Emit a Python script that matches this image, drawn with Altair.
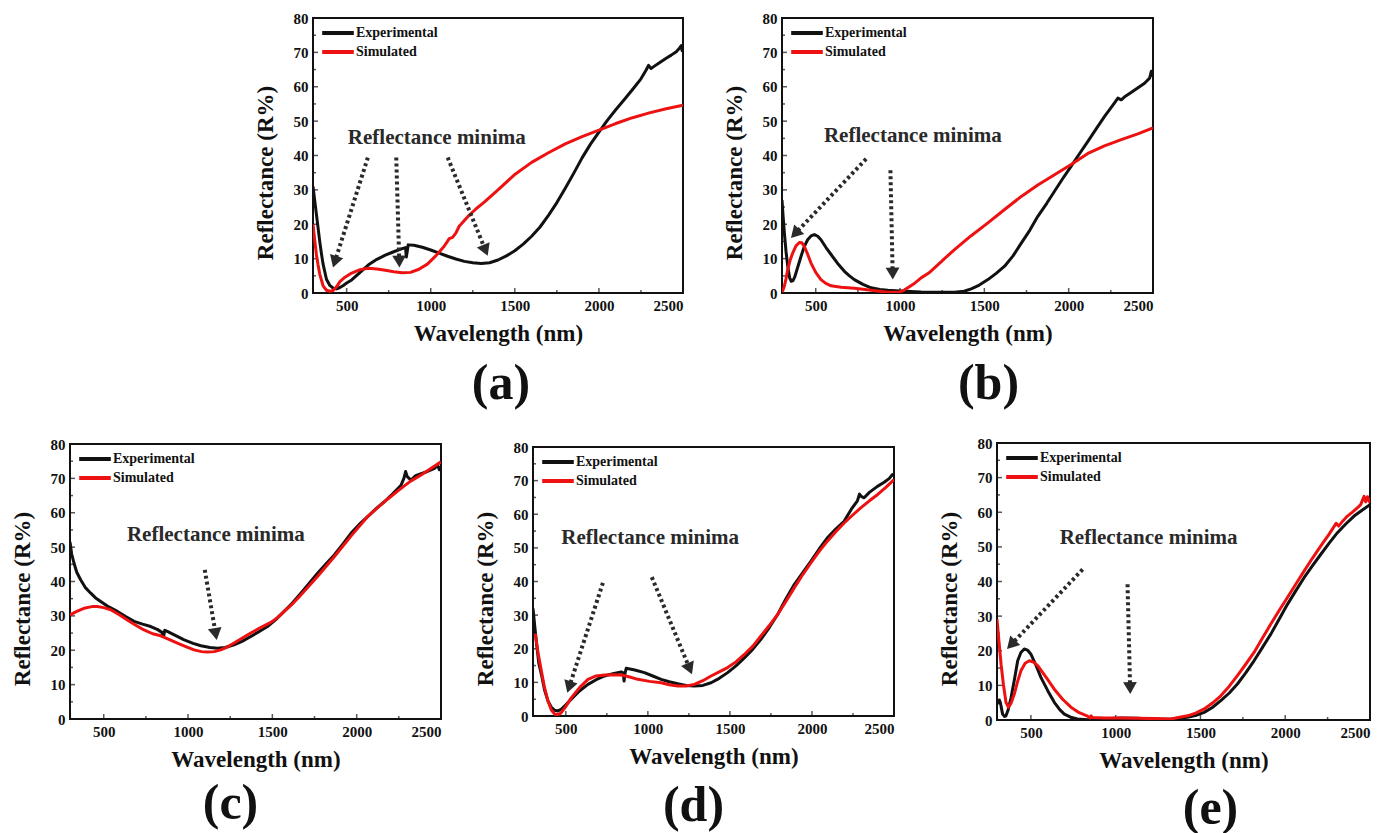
import math
import altair as alt
import pandas as pd

FONT = "Liberation Serif"
RED = "#ee1111"
INK = "#111111"
ANN = "#2a2a2a"

X_TICKS = [500, 1000, 1500, 2000, 2500]
X_MINOR = [750, 1250, 1750, 2250]
Y_TICKS = [0, 10, 20, 30, 40, 50, 60, 70, 80]
Y_MINOR = [5, 15, 25, 35, 45, 55, 65, 75]
SERIES = ["Experimental", "Simulated"]
ANN_TEXT = "Reflectance minima"

# ---------------- (a) ----------------
A_EXP_WL = [300, 310, 320, 330, 340, 350, 360, 380, 400, 420, 440, 460, 480, 500, 530, 580, 630, 680, 730, 780, 830, 850, 855, 860, 866, 900, 950, 1000, 1050, 1100, 1150, 1200, 1250, 1300, 1350, 1400, 1450, 1500, 1550, 1600, 1650, 1700, 1750, 1800, 1850, 1900, 1950, 2000, 2050, 2100, 2150, 2200, 2250, 2280, 2295, 2310, 2330, 2360, 2400, 2430, 2460, 2480, 2490, 2495, 2500]
A_EXP_R = [31, 27, 23, 19, 15, 11.5, 8.4, 4, 2.2, 1.4, 1.2, 1.6, 2.2, 2.9, 3.8, 6, 8.2, 9.8, 11, 12, 12.9, 13.2, 10.5, 12, 14, 13.9, 13.3, 12.5, 11.6, 10.7, 9.9, 9.2, 8.8, 8.6, 8.8, 9.6, 10.8, 12.3, 14.2, 16.5, 19.2, 22.6, 26.3, 30.5, 34.8, 39.3, 43.3, 46.8, 50.2, 53.3, 56.2, 59.2, 62.3, 64.8, 66.2, 65.3, 66, 67, 68.3, 69.2, 70.2, 71.3, 72, 70.5, 71]
A_SIM_WL = [300, 310, 320, 330, 340, 360, 380, 400, 420, 440, 460, 490, 530, 580, 630, 680, 730, 780, 830, 880, 930, 980, 1030, 1080, 1110, 1130, 1150, 1170, 1180, 1220, 1270, 1320, 1400, 1500, 1600, 1700, 1800, 1900, 2000, 2100, 2200, 2300, 2400, 2500]
A_SIM_R = [20, 15.5, 11.3, 8.2, 5.5, 2.1, 0.8, 0.5, 0.7, 1.8, 3.3, 4.6, 5.8, 6.8, 7.2, 7.0, 6.6, 6.2, 5.9, 6.0, 6.9, 8.4, 10.8, 13.6, 15.8, 16.2, 17.5, 19.5, 20, 22.2, 24.5, 26.5, 30, 34.5, 38, 40.8, 43.4, 45.5, 47.4, 49.3, 51, 52.4, 53.6, 54.6]
A_TEXT = [1036, 45]
A_ARROWS = [[626, 39.4, 419, 7.4], [795, 39.4, 814, 7.4], [1101, 39.4, 1339, 10.8]]

# ---------------- (b) ----------------
B_EXP_WL = [300, 307, 314, 324, 334, 345, 355, 365, 375, 390, 413, 432, 452, 472, 492, 512, 531, 560, 591, 630, 670, 700, 729, 780, 828, 880, 927, 1000, 1125, 1250, 1323, 1380, 1422, 1470, 1521, 1570, 1620, 1670, 1719, 1770, 1817, 1870, 1916, 1965, 2015, 2064, 2114, 2165, 2213, 2260, 2292, 2312, 2330, 2370, 2411, 2450, 2480, 2490, 2500]
B_EXP_R = [27, 22, 17.5, 12, 7.8, 4.5, 3.4, 3.6, 4.6, 7, 10.7, 13.5, 15.5, 16.6, 17, 16.5, 15.5, 13.3, 11.2, 8.6, 6.3, 5, 3.9, 2.5, 1.5, 1.0, 0.8, 0.6, 0.3, 0.2, 0.2, 0.5, 1.2, 2.3, 3.9, 5.7, 7.8, 10.8, 14.5, 18.3, 22.3, 26.1, 29.6, 33.3, 36.9, 40.5, 44.1, 47.9, 51.4, 54.5, 56.7, 56.2, 57, 58.3, 59.7, 61, 62.5, 64.5, 63]
B_SIM_WL = [300, 307, 314, 324, 334, 348, 363, 383, 403, 418, 432, 452, 472, 500, 531, 560, 591, 650, 729, 780, 828, 880, 927, 987, 1020, 1046, 1080, 1125, 1170, 1224, 1270, 1323, 1420, 1521, 1620, 1719, 1817, 1916, 2015, 2064, 2114, 2212, 2312, 2410, 2500]
B_SIM_R = [0.3, 1, 2, 4.2, 6.8, 9.5, 11.6, 13.7, 14.7, 14.6, 13.6, 11.3, 8.7, 6, 3.9, 2.8, 2.1, 1.7, 1.4, 1.1, 0.8, 0.5, 0.2, 0.2, 0.7, 1.5, 2.6, 4.4, 5.8, 8.2, 10.3, 12.6, 16.6, 20.4, 24.3, 28.1, 31.4, 34.4, 37.4, 39.0, 40.6, 42.8, 44.6, 46.3, 48]
B_TEXT = [1076, 45.6]
B_ARROWS = [[799, 39, 353, 16], [943, 35.7, 957, 3.9]]

# ---------------- (c) ----------------
C_EXP_WL = [300, 310, 324, 340, 363, 390, 423, 450, 482, 530, 581, 630, 680, 730, 779, 820, 845, 855, 862, 880, 930, 977, 1030, 1076, 1130, 1175, 1220, 1273, 1320, 1372, 1420, 1471, 1520, 1570, 1620, 1669, 1720, 1768, 1820, 1867, 1920, 1966, 2015, 2065, 2115, 2164, 2215, 2263, 2280, 2290, 2300, 2322, 2350, 2382, 2420, 2461, 2480, 2490, 2500]
C_EXP_R = [51.5, 48, 45.3, 42.7, 40.5, 38.3, 36.6, 35.3, 34.2, 32.6, 31.3, 29.8, 28.4, 27.6, 26.9, 26, 25.2, 24, 25.8, 25.4, 24.2, 23, 22, 21.3, 20.8, 20.6, 20.8, 21.6, 22.6, 24, 25.4, 26.9, 28.9, 31.3, 33.8, 36.6, 39.6, 42.4, 45.2, 47.7, 51, 54, 56.6, 58.9, 61.2, 63.2, 65.6, 68, 70, 72, 70.5, 69.5, 70.8, 71.4, 72, 72.9, 73.8, 72.5, 73.4]
C_SIM_WL = [300, 340, 383, 430, 462, 500, 541, 590, 640, 690, 739, 790, 838, 890, 937, 990, 1036, 1080, 1115, 1155, 1194, 1235, 1273, 1320, 1372, 1430, 1491, 1530, 1570, 1620, 1669, 1770, 1867, 1966, 2065, 2164, 2263, 2320, 2382, 2440, 2500]
C_SIM_R = [30.3, 31.3, 32.2, 32.7, 32.7, 32.4, 31.8, 30.4, 28.8, 27.3, 25.9, 24.8, 24.2, 23.1, 22.1, 21, 20.1, 19.6, 19.5, 19.6, 20.1, 21, 22.1, 23.5, 25, 26.6, 28.1, 29.5, 31.3, 33.5, 36.1, 41.6, 47.2, 53.2, 58.9, 63.2, 67.1, 69.2, 71, 72.9, 74.8]
C_TEXT = [1165, 53.5]
C_ARROWS = [[1099, 43.4, 1170, 23]]

# ---------------- (d) ----------------
D_EXP_WL = [300, 310, 320, 335, 351, 370, 391, 412, 432, 452, 472, 500, 533, 585, 635, 685, 736, 787, 837, 850, 855, 860, 868, 920, 979, 1030, 1081, 1130, 1182, 1233, 1283, 1335, 1385, 1435, 1486, 1537, 1588, 1640, 1689, 1740, 1791, 1840, 1892, 1943, 1993, 2043, 2094, 2145, 2196, 2240, 2277, 2290, 2300, 2318, 2350, 2399, 2440, 2470, 2490, 2500]
D_EXP_R = [32, 27, 22.3, 15.8, 12.4, 7.8, 4.5, 2.6, 1.7, 1.5, 2, 3.3, 5, 7.5, 9.4, 10.8, 11.9, 12.6, 13.1, 12.8, 10.4, 12.5, 14.2, 13.7, 12.9, 11.9, 10.9, 10.2, 9.6, 9.1, 8.9, 9.1, 9.9, 11.2, 12.9, 14.9, 17.3, 19.9, 22.8, 26.3, 30.2, 34.7, 39.1, 42.6, 46, 49.6, 53, 55.6, 57.9, 61.5, 64, 66, 65.3, 64.9, 66.5, 68.3, 69.5, 70.6, 71.8, 71.5]
D_SIM_WL = [314, 330, 351, 370, 391, 412, 432, 445, 460, 472, 500, 533, 585, 635, 685, 736, 787, 837, 890, 939, 1010, 1081, 1130, 1182, 1233, 1283, 1335, 1385, 1435, 1486, 1537, 1588, 1640, 1689, 1740, 1791, 1840, 1892, 1943, 1993, 2043, 2094, 2145, 2196, 2247, 2297, 2350, 2399, 2450, 2500]
D_SIM_R = [24.5, 19, 13.4, 8.5, 4.5, 1.8, 0.6, 0.4, 0.6, 1, 2.8, 5.4, 8.5, 10.9, 11.9, 12.2, 12.3, 12.2, 11.6, 10.9, 10.3, 9.9, 9.3, 8.9, 8.9, 9.4, 10.5, 11.9, 13.1, 14.4, 16.1, 18.3, 20.8, 23.8, 26.9, 30.2, 34, 38.1, 42, 45.5, 48.9, 52, 54.8, 57.4, 59.7, 61.9, 64, 65.8, 68, 70.3]
D_TEXT = [1014, 53]
D_ARROWS = [[726, 39.6, 509, 6.9], [1024, 41.3, 1269, 12.4]]

# ---------------- (e) ----------------
E_EXP_WL = [310, 314, 320, 333, 345, 353, 365, 383, 402, 422, 441, 461, 480, 500, 530, 559, 600, 638, 670, 697, 740, 775, 834, 900, 1031, 1130, 1227, 1330, 1423, 1470, 1522, 1570, 1620, 1670, 1718, 1767, 1816, 1865, 1915, 1964, 2013, 2062, 2111, 2160, 2209, 2258, 2308, 2357, 2406, 2453, 2500]
E_EXP_R = [4.5, 5.8, 5, 1.7, 1.0, 1.2, 2.8, 6.5, 11.5, 17.1, 19.5, 20.5, 20.2, 19, 15.8, 12.3, 8.4, 5.1, 3, 1.7, 0.7, 0.3, 0.1, 0.3, 0.6, 0.5, 0.2, 0.3, 0.8, 1.3, 2.2, 3.6, 5.6, 7.8, 10.4, 13.6, 17.1, 20.9, 24.8, 29.1, 33.4, 37.3, 41.1, 44.5, 47.8, 51, 54.1, 56.6, 58.9, 60.6, 62.2]
E_SIM_WL = [300, 312, 324, 338, 353, 367, 383, 402, 422, 441, 466, 491, 515, 540, 590, 638, 687, 736, 785, 834, 850, 855, 862, 933, 1030, 1129, 1227, 1325, 1423, 1472, 1522, 1571, 1620, 1669, 1718, 1767, 1816, 1865, 1915, 1964, 2013, 2062, 2111, 2160, 2209, 2258, 2300, 2315, 2340, 2367, 2400, 2430, 2445, 2465, 2475, 2485, 2500]
E_SIM_R = [29.1, 22.5, 16.1, 10.2, 5.1, 3.7, 4.8, 7.5, 11.2, 14.2, 16.4, 17.1, 16.7, 15.7, 12.3, 8.9, 6, 3.7, 2.1, 1.1, 0.6, 1.2, 0.7, 0.6, 0.6, 0.5, 0.4, 0.3, 1.2, 2, 3.2, 4.9, 7, 9.7, 12.8, 16.1, 19.5, 23.6, 27.7, 31.6, 35.4, 39.2, 43, 46.7, 50.2, 53.6, 56.8, 56, 57.5, 58.9, 60.2, 61.5, 62.2, 64.6, 63, 64.5, 62.7]
E_TEXT = [1194, 52.6]
E_ARROWS = [[805, 43.5, 359, 20.5], [1070, 39.2, 1086, 7.5]]

XMIN, XMAX, YMIN, YMAX = 300, 2500, 0, 80


def xenc(field):
    return alt.X(
        f"{field}:Q",
        scale=alt.Scale(domain=[XMIN, XMAX], nice=False, zero=False),
        axis=alt.Axis(values=X_TICKS, title="Wavelength (nm)", format="d"),
    )


def yenc(field, h):
    return alt.Y(
        f"{field}:Q",
        scale=alt.Scale(domain=[YMIN, YMAX], nice=False, zero=False),
        axis=alt.Axis(values=Y_TICKS, title="Reflectance (R%)", titleY=h / 2 + 17),
    )


def tick_layers(h):
    """Inward ticks on the left and bottom frame edges (half of each tick is clipped)."""
    ydf = pd.DataFrame({"tv": Y_TICKS + Y_MINOR, "edge": XMIN,
                        "len": [10] * len(Y_TICKS) + [6] * len(Y_MINOR)})
    xdf = pd.DataFrame({"tv": X_TICKS + X_MINOR, "edge": YMIN,
                        "len": [10] * len(X_TICKS) + [6] * len(X_MINOR)})
    yt = alt.Chart(ydf).mark_tick(orient="horizontal", thickness=1.5, color=INK, clip=True).encode(
        x=xenc("edge"), y=yenc("tv", h), size=alt.Size("len:Q", scale=None, legend=None)
    )
    xt = alt.Chart(xdf).mark_tick(orient="vertical", thickness=1.5, color=INK, clip=True).encode(
        x=xenc("tv"), y=yenc("edge", h), size=alt.Size("len:Q", scale=None, legend=None)
    )
    return [yt, xt]


def panel(label, exp_wl, exp_r, sim_wl, sim_r, text_pos, arrows, w, h, label_dx, label_off):
    df = pd.concat(
        [
            pd.DataFrame({"wl": exp_wl, "r": exp_r, "series": SERIES[0]}),
            pd.DataFrame({"wl": sim_wl, "r": sim_r, "series": SERIES[1]}),
        ],
        ignore_index=True,
    )
    lines = alt.Chart(df).mark_line(strokeWidth=3, clip=True, strokeJoin="round").encode(
        x=xenc("wl"),
        y=yenc("r", h),
        color=alt.Color(
            "series:N",
            scale=alt.Scale(domain=SERIES, range=[INK, RED]),
            legend=alt.Legend(
                orient="top-left", title=None, symbolType="stroke", symbolStrokeWidth=4,
                symbolSize=1000, clipHeight=16, labelFont=FONT, labelFontWeight="bold",
                labelFontSize=14, labelColor=INK, offset=7, padding=0, rowPadding=3,
                labelOffset=0,
            ),
        ),
    )

    # arrows: dashed shaft + triangular head, positioned from the annotation arrays
    shafts, heads = [], []
    for x1, y1, x2, y2 in arrows:
        px1 = (x1 - XMIN) / (XMAX - XMIN) * w
        py1 = (YMAX - y1) / (YMAX - YMIN) * h
        px2 = (x2 - XMIN) / (XMAX - XMIN) * w
        py2 = (YMAX - y2) / (YMAX - YMIN) * h
        dx, dy = px2 - px1, py2 - py1
        L = math.hypot(dx, dy)
        ux, uy = dx / L, dy / L
        cx, cy = px2 - ux * 6, py2 - uy * 6
        ang = math.degrees(math.atan2(dx, -dy)) % 360
        cwl = XMIN + cx / w * (XMAX - XMIN)
        cr = YMAX - cy / h * (YMAX - YMIN)
        shafts.append({"x1": x1, "y1": y1, "x2": cwl, "y2": cr})
        heads.append({"hx": cwl, "hy": cr, "ang": ang})
    shaft = alt.Chart(pd.DataFrame(shafts)).mark_rule(
        strokeWidth=4, strokeDash=[3, 3], color=ANN, strokeCap="butt"
    ).encode(x=xenc("x1"), y=yenc("y1", h), x2="x2:Q", y2="y2:Q")
    head = alt.Chart(pd.DataFrame(heads)).mark_point(
        shape="triangle-up", filled=True, size=190, color=ANN, opacity=1
    ).encode(x=xenc("hx"), y=yenc("hy", h), angle=alt.Angle("ang:Q", scale=None))
    txt = alt.Chart(pd.DataFrame({"tx": [text_pos[0]], "ty": [text_pos[1]], "t": [ANN_TEXT]})).mark_text(
        font=FONT, fontWeight="bold", fontSize=21, color=ANN
    ).encode(x=xenc("tx"), y=yenc("ty", h), text="t:N")

    return alt.layer(*tick_layers(h), lines, shaft, head, txt).properties(
        width=w,
        height=h,
        view=alt.ViewBackground(stroke=INK, strokeWidth=2),
        title=alt.TitleParams(
            text=label, orient="bottom", anchor="middle", fontSize=50, font=FONT,
            fontWeight="bold", color=INK, offset=label_off, dx=label_dx,
        ),
    )


def spacer(w):
    return alt.Chart(pd.DataFrame({"v": [0]})).mark_point(opacity=0).encode(
        x=alt.X("v:Q", axis=None), y=alt.Y("v:Q", axis=None)
    ).properties(width=w, height=10, view=alt.ViewBackground(strokeOpacity=0))


pa = panel("(a)", A_EXP_WL, A_EXP_R, A_SIM_WL, A_SIM_R, A_TEXT, A_ARROWS, 370, 275, 3, 14)
pb = panel("(b)", B_EXP_WL, B_EXP_R, B_SIM_WL, B_SIM_R, B_TEXT, B_ARROWS, 371, 275, 21, 14)
pc = panel("(c)", C_EXP_WL, C_EXP_R, C_SIM_WL, C_SIM_R, C_TEXT, C_ARROWS, 371, 275, -25, 8)
pd_ = panel("(d)", D_EXP_WL, D_EXP_R, D_SIM_WL, D_SIM_R, D_TEXT, D_ARROWS, 361, 269, -20, 13)
pe = panel("(e)", E_EXP_WL, E_EXP_R, E_SIM_WL, E_SIM_R, E_TEXT, E_ARROWS, 373, 277, 27, 12)

top = alt.hconcat(spacer(243), pa, spacer(99), pb, spacing=0, bounds="flush").resolve_scale(color="independent")
bottom = alt.hconcat(pc, spacer(92), pd_, spacer(103), pe, spacing=0, bounds="flush", center=True).resolve_scale(color="independent")

chart = alt.vconcat(top, bottom, spacing=25).resolve_scale(color="independent").properties(
    padding={"left": 2, "top": 2, "right": 0, "bottom": 0}, background="white"
).configure_axis(
    labelFont=FONT, labelFontWeight="bold", labelFontSize=15, labelColor=INK,
    titleFont=FONT, titleFontWeight="bold", titleFontSize=23, titleColor=INK,
    grid=False, ticks=False, tickSize=0, domain=False, labelPadding=5,
).configure_axisX(titlePadding=9).configure_axisY(titlePadding=16).configure_view(
    strokeWidth=0
)

chart.save("out.html", embed_options={"renderer": "svg", "actions": False})
